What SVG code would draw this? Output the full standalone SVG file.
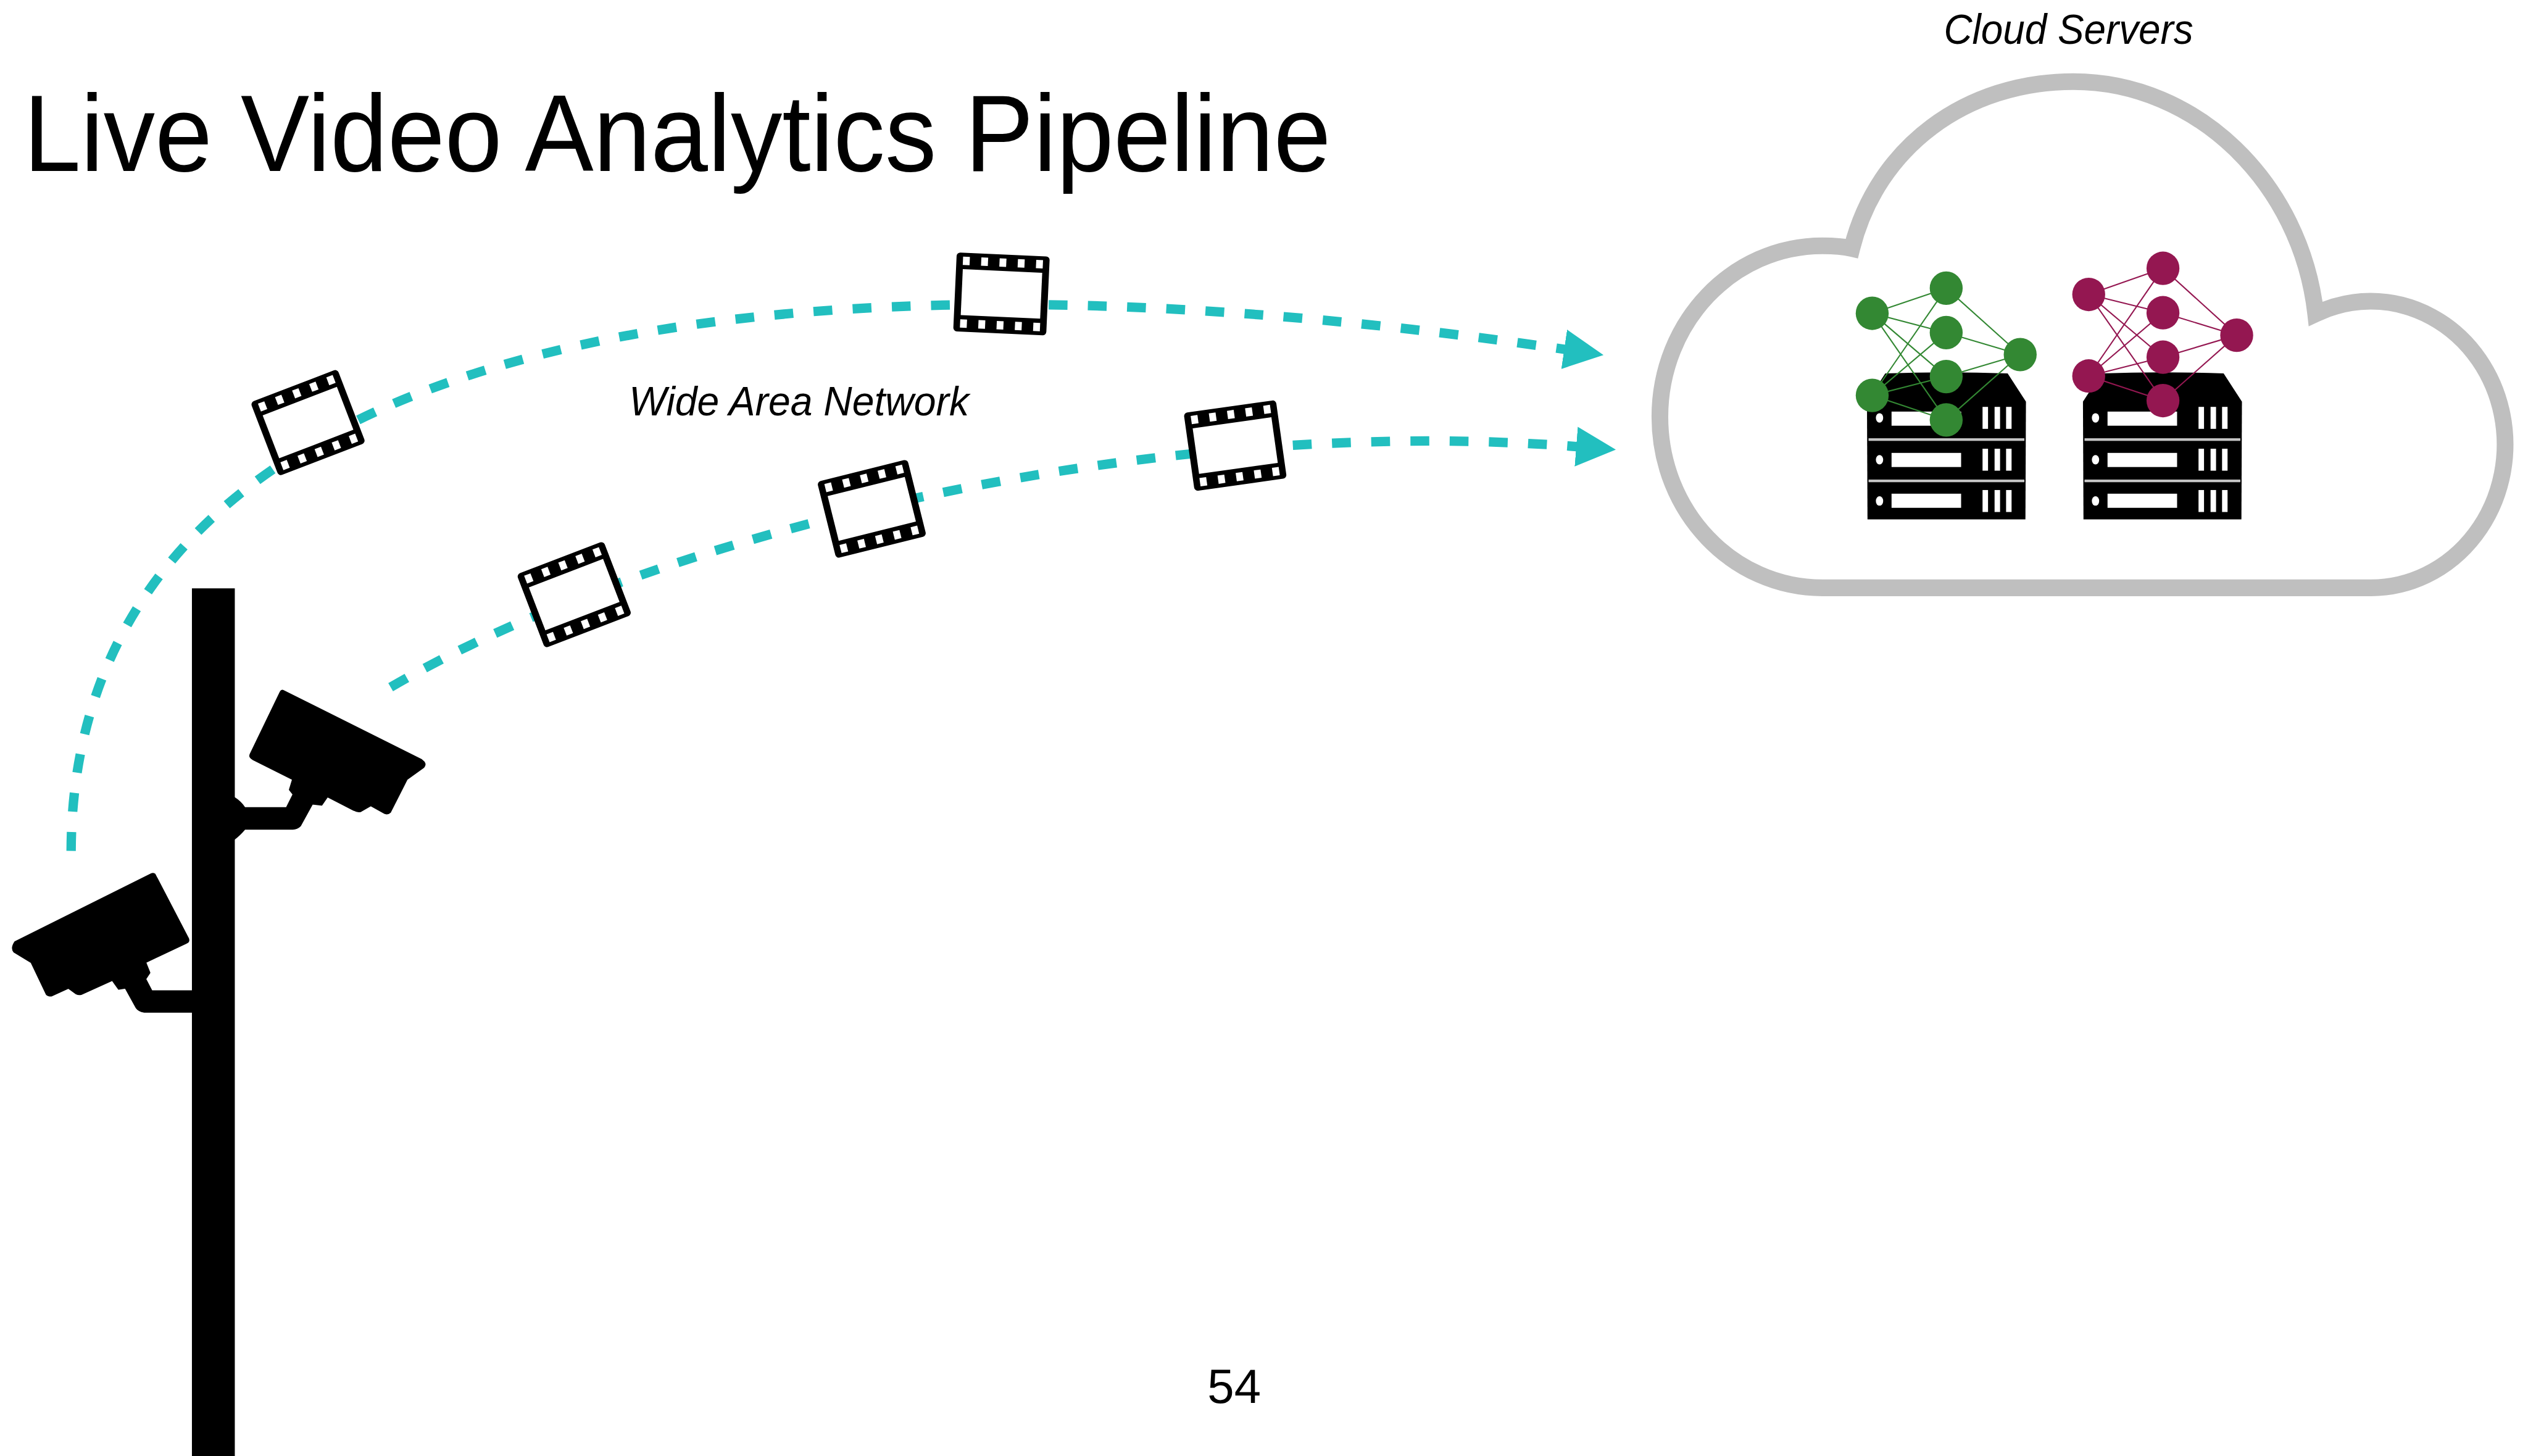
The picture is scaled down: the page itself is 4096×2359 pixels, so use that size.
<svg xmlns="http://www.w3.org/2000/svg" xmlns:xlink="http://www.w3.org/1999/xlink" width="4096" height="2359" viewBox="0 0 4096 2359">
  <style>
    .txt { font-family: "Liberation Sans", Arial, Helvetica, sans-serif; fill: #000; }
    .ital { font-style: italic; }
    .flow { fill: none; stroke: #22BFBF; stroke-width: 18; stroke-dasharray: 36 39; }
    .silhouette { fill: #000; stroke: #000; stroke-width: 3; stroke-linejoin: round; }
    .cloud { fill: #fff; stroke: #BFBFBF; stroke-width: 32; }
    .srv-body { fill: #000; }
    .srv-sep { fill: #c4c4c4; }
    .srv-led { fill: #fff; }
    .green-edge { stroke: #338833; stroke-width: 2.5; }
    .green-node { fill: #338833; }
    .mag-edge { stroke: #941751; stroke-width: 2.5; }
    .mag-node { fill: #941751; }
  </style>
  <defs>
    <marker id="arrow" markerUnits="userSpaceOnUse" markerWidth="80" markerHeight="76" viewBox="0 0 80 76" refX="1" refY="38" orient="auto">
      <path d="M0,0 L76,38 L0,76 Z" fill="#22BFBF"/>
    </marker>
    <!-- film strip frame, centred on the origin -->
    <g id="film">
      <rect x="-89" y="-75.5" width="178" height="151" rx="7" fill="#000"/>
      <rect x="-76" y="-44" width="152" height="88" fill="#fff"/>
      <g fill="#fff">
        <rect x="-76.5" y="-68" width="13" height="16"/>
        <rect x="-41.5" y="-68" width="13" height="16"/>
        <rect x="-6.5" y="-68" width="13" height="16"/>
        <rect x="28.5" y="-68" width="13" height="16"/>
        <rect x="63.5" y="-68" width="13" height="16"/>
        <rect x="-76.5" y="52" width="13" height="16"/>
        <rect x="-41.5" y="52" width="13" height="16"/>
        <rect x="-6.5" y="52" width="13" height="16"/>
        <rect x="28.5" y="52" width="13" height="16"/>
        <rect x="63.5" y="52" width="13" height="16"/>
      </g>
    </g>
    <!-- rack server, top-left at the origin -->
    <g id="server">
      <path class="srv-body" d="M35,0 Q152,-4 269,0 L304,54 L303,279 L1,279 L0,54 Z"/>
      <rect class="srv-sep" x="3" y="124" width="298" height="5"/>
      <rect class="srv-sep" x="3" y="203" width="298" height="5"/>
      <g class="srv-led">
        <ellipse cx="24" cy="85" rx="7" ry="9"/>
        <ellipse cx="24" cy="165" rx="7" ry="9"/>
        <ellipse cx="24" cy="244" rx="7" ry="9"/>
        <rect x="47" y="73" width="133" height="27"/>
        <rect x="47" y="152" width="133" height="27"/>
        <rect x="47" y="230" width="133" height="27"/>
        <rect x="221" y="64" width="10.5" height="42"/>
        <rect x="244" y="64" width="10.5" height="42"/>
        <rect x="266" y="64" width="10.5" height="42"/>
        <rect x="221" y="144" width="10.5" height="42"/>
        <rect x="244" y="144" width="10.5" height="42"/>
        <rect x="266" y="144" width="10.5" height="42"/>
        <rect x="221" y="223" width="10.5" height="42"/>
        <rect x="244" y="223" width="10.5" height="42"/>
        <rect x="266" y="223" width="10.5" height="42"/>
      </g>
    </g>
  </defs>

  <rect x="0" y="0" width="4096" height="2359" fill="#fff"/>

  <g transform="scale(0.84733)">
    <!-- heading -->
    <g id="title">
      <text class="txt" x="45" y="327" font-size="209" textLength="2500" lengthAdjust="spacingAndGlyphs">Live Video Analytics Pipeline</text>
    </g>

    <!-- cloud outline: left lobe, big top lobe, right lobe, flat base -->
    <g id="cloud">
      <path class="cloud" d="M3485,1124 C3313,1124 3174,978 3174,797 C3174,616 3313,470 3485,470 C3510,470 3528,472 3541,475 C3590,280 3760,156 3965,156 C4200,156 4400,350 4428,600 A257,274 0 1 1 4534,1124 Z"/>
      <text class="txt ital" x="3717" y="84" font-size="80" textLength="477" lengthAdjust="spacingAndGlyphs">Cloud Servers</text>
    </g>

    <!-- streams from the cameras to the cloud -->
    <g id="connectors">
      <path class="flow" d="M136,1627 C140,700 1300,420 2992,668" marker-end="url(#arrow)"/>
      <path class="flow" d="M747,1314 C1250,1020 2200,790 3015,854" marker-end="url(#arrow)"/>
    </g>

    <!-- video frames travelling along the streams -->
    <g id="frames">
      <use xlink:href="#film" href="#film" transform="translate(589,808) rotate(-21)"/>
      <use xlink:href="#film" href="#film" transform="translate(1915,562) rotate(2.6)"/>
      <use xlink:href="#film" href="#film" transform="translate(1098,1137) rotate(-21)"/>
      <use xlink:href="#film" href="#film" transform="translate(1667,973) rotate(-14)"/>
      <use xlink:href="#film" href="#film" transform="translate(2362,852) rotate(-8)"/>
    </g>

    <g id="wan-label">
      <text class="txt ital" x="1203" y="794" font-size="78" textLength="650" lengthAdjust="spacingAndGlyphs">Wide Area Network</text>
    </g>

    <!-- pole with two cameras -->
    <g id="camera-pole">
      <rect x="367" y="1125" width="82" height="1670" fill="#000"/>
    </g>
    <g id="camera-upper">
      <path class="silhouette" d="M542,1321 L806,1453 Q816,1460 810,1467 L778,1490 L746,1553 Q742,1557 736,1555 L709,1540 L690,1551 Q684,1553 677,1549 L626,1523 L615,1539 L597,1537 L574,1579 Q568,1585 560,1585 L468,1585 Q458,1597 447,1605 L447,1525 Q460,1533 468,1545 L548,1545 L561,1519 L554,1510 L560,1490 L484,1452 Q476,1448 479,1442 L536,1324 Q538,1319 542,1321 Z"/>
    </g>
    <g id="camera-lower">
      <path class="silhouette" d="M296,1672 L360,1795 Q362,1801 356,1803 L278,1840 L286,1860 L278,1872 L290,1895 L370,1895 L370,1935 L276,1935 Q265,1933 261,1927 L240,1889 L227,1891 L215,1874 L155,1901 Q150,1902 146,1900 L131,1889 L98,1904 Q91,1904 89,1901 L60,1840 L27,1820 Q21,1813 29,1801 L290,1671 Q294,1670 296,1672 Z"/>
    </g>

    <!-- servers -->
    <g id="server-1">
      <use xlink:href="#server" href="#server" transform="translate(3570,714)"/>
    </g>
    <g id="server-2">
      <use xlink:href="#server" href="#server" transform="translate(3983,714)"/>
    </g>

    <!-- model on server 1 -->
    <g id="nn-green">
      <g class="green-edge">
        <line x1="3580" y1="599" x2="3721.5" y2="551"/>
        <line x1="3580" y1="599" x2="3721.5" y2="636"/>
        <line x1="3580" y1="599" x2="3721.5" y2="720"/>
        <line x1="3580" y1="599" x2="3721.5" y2="803"/>
        <line x1="3580" y1="756" x2="3721.5" y2="551"/>
        <line x1="3580" y1="756" x2="3721.5" y2="636"/>
        <line x1="3580" y1="756" x2="3721.5" y2="720"/>
        <line x1="3580" y1="756" x2="3721.5" y2="803"/>
        <line x1="3721.5" y1="551" x2="3863" y2="678"/>
        <line x1="3721.5" y1="636" x2="3863" y2="678"/>
        <line x1="3721.5" y1="720" x2="3863" y2="678"/>
        <line x1="3721.5" y1="803" x2="3863" y2="678"/>
      </g>
      <g class="green-node">
        <ellipse cx="3580" cy="599" rx="31.5" ry="32"/>
        <ellipse cx="3580" cy="756" rx="31.5" ry="32"/>
        <ellipse cx="3721.5" cy="551" rx="31.5" ry="32"/>
        <ellipse cx="3721.5" cy="636" rx="31.5" ry="32"/>
        <ellipse cx="3721.5" cy="720" rx="31.5" ry="32"/>
        <ellipse cx="3721.5" cy="803" rx="31.5" ry="32"/>
        <ellipse cx="3863" cy="678" rx="31.5" ry="32"/>
      </g>
    </g>

    <!-- model on server 2 -->
    <g id="nn-magenta">
      <g class="mag-edge">
        <line x1="3994" y1="563" x2="4136" y2="513"/>
        <line x1="3994" y1="563" x2="4136" y2="598"/>
        <line x1="3994" y1="563" x2="4136" y2="683"/>
        <line x1="3994" y1="563" x2="4136" y2="766"/>
        <line x1="3994" y1="719" x2="4136" y2="513"/>
        <line x1="3994" y1="719" x2="4136" y2="598"/>
        <line x1="3994" y1="719" x2="4136" y2="683"/>
        <line x1="3994" y1="719" x2="4136" y2="766"/>
        <line x1="4136" y1="513" x2="4277" y2="641"/>
        <line x1="4136" y1="598" x2="4277" y2="641"/>
        <line x1="4136" y1="683" x2="4277" y2="641"/>
        <line x1="4136" y1="766" x2="4277" y2="641"/>
      </g>
      <g class="mag-node">
        <ellipse cx="3994" cy="563" rx="31.5" ry="32"/>
        <ellipse cx="3994" cy="719" rx="31.5" ry="32"/>
        <ellipse cx="4136" cy="513" rx="31.5" ry="32"/>
        <ellipse cx="4136" cy="598" rx="31.5" ry="32"/>
        <ellipse cx="4136" cy="683" rx="31.5" ry="32"/>
        <ellipse cx="4136" cy="766" rx="31.5" ry="32"/>
        <ellipse cx="4277" cy="641" rx="31.5" ry="32"/>
      </g>
    </g>

    <!-- slide number -->
    <g id="page-number">
      <text class="txt" x="2360" y="2682" font-size="92" text-anchor="middle">54</text>
    </g>
  </g>
</svg>
